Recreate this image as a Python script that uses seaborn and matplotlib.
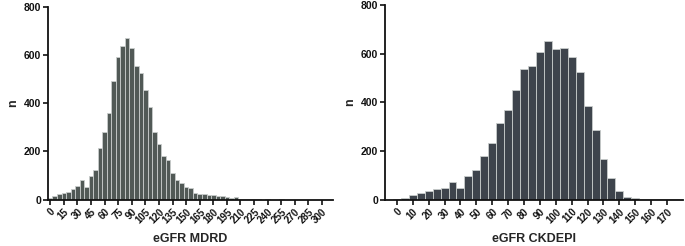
import numpy as np
import seaborn as sns
import matplotlib.pyplot as plt

# counts per 5-unit bin, bins centred on 0, 5, 10, ...
mdrd_counts = [5, 14, 23, 28, 30, 43, 55, 79, 50, 97, 124, 212, 280, 361, 494,
               590, 636, 672, 630, 553, 527, 455, 383, 280, 229, 179, 163, 110,
               83, 67, 52, 46, 28, 23, 21, 19, 18, 14, 13, 12, 7, 10, 3, 2, 1,
               1, 1, 0, 1, 0, 0, 1, 0, 0, 0, 0, 0, 0, 0, 0, 0]
ckdepi_counts = [3, 8, 20, 25, 33, 42, 49, 72, 48, 97, 120, 179, 233, 313, 369,
                 449, 535, 550, 607, 651, 620, 624, 584, 525, 383, 285, 168, 87,
                 33, 11, 7, 4, 2, 1, 1, 1]
mdrd_ticks = list(range(0, 301, 15))
ckdepi_ticks = list(range(0, 171, 10))
y_ticks = [0, 200, 400, 600, 800]

sns.set_style('ticks')
plt.rcParams['font.family'] = ['Liberation Sans', 'DejaVu Sans']
plt.rcParams['font.weight'] = 'bold'

fig = plt.figure(figsize=(6.85, 2.46), dpi=100)
ax1 = fig.add_axes([0.070, 0.189, 0.416, 0.783])
ax2 = fig.add_axes([0.562, 0.189, 0.435, 0.791])


def draw(ax, counts, color, ticks, xlim, label):
    centers = np.arange(len(counts)) * 5
    sns.histplot(x=centers, weights=counts, binwidth=5,
                 binrange=(-2.5, 5 * len(counts) - 2.5), color=color, alpha=1,
                 edgecolor='#c9cdcc', linewidth=0.6, ax=ax)
    ax.set_xlim(*xlim)
    ax.set_ylim(0, 800)
    ax.set_xticks(ticks)
    ax.set_xticklabels([str(t) for t in ticks], rotation=45, ha='right',
                       rotation_mode='anchor', fontsize=7, fontweight='bold')
    ax.set_yticks(y_ticks)
    ax.set_yticklabels([str(t) for t in y_ticks], fontsize=7.5, fontweight='bold')
    ax.tick_params(length=3.5, width=1.2, pad=1.5, colors='#111111')
    for s in ['left', 'bottom']:
        ax.spines[s].set_linewidth(1.3)
        ax.spines[s].set_color('#111111')
    sns.despine(ax=ax)
    ax.set_xlabel(label, fontsize=9, fontweight='bold', labelpad=6)
    ax.set_ylabel('n', fontsize=9, fontweight='bold', labelpad=3)


draw(ax1, mdrd_counts, '#515956', mdrd_ticks, (-2.5, 312), 'eGFR MDRD')
draw(ax2, ckdepi_counts, '#3e444c', ckdepi_ticks, (-7.5, 180), 'eGFR CKDEPI')

fig.savefig('out.png', dpi=100)
